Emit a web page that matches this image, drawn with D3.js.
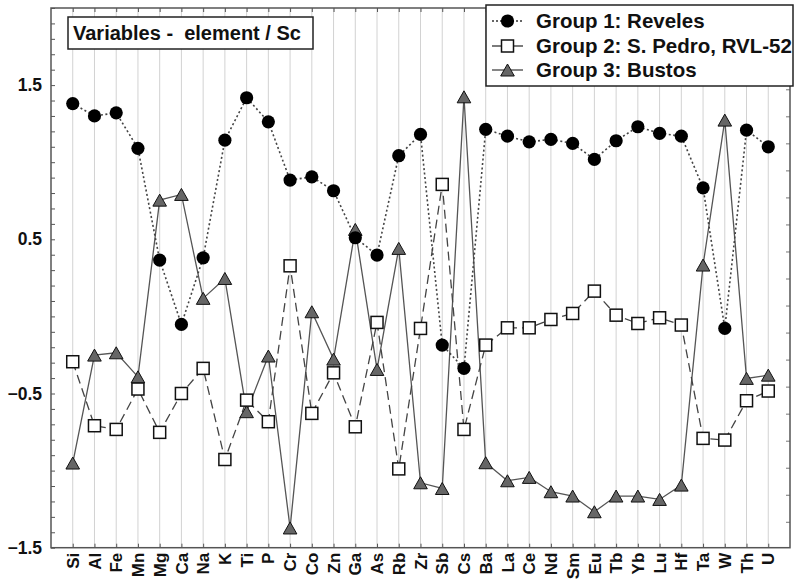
<!DOCTYPE html>
<html>
<head>
<meta charset="utf-8">
<script src="https://cdn.jsdelivr.net/npm/d3@7/dist/d3.min.js"></script>
<style>
  html, body { margin: 0; padding: 0; background: #fff; }
  svg { display: block; }
  text { font-family: "Liberation Sans", Arial, sans-serif; font-weight: bold; fill: #111; }
</style>
</head>
<body>
<svg id="chart" width="795" height="581"></svg>
<script>
const categories = ["Si","Al","Fe","Mn","Mg","Ca","Na","K","Ti","P","Cr","Co","Zn","Ga","As","Rb","Zr","Sb","Cs","Ba","La","Ce","Nd","Sm","Eu","Tb","Yb","Lu","Hf","Ta","W","Th","U"];

const group1 = [1.38, 1.30, 1.32, 1.09, 0.365, -0.052, 0.38, 1.143, 1.418, 1.262, 0.884, 0.905, 0.815, 0.51, 0.398, 1.042, 1.18, -0.186, -0.337, 1.213, 1.169, 1.132, 1.148, 1.122, 1.018, 1.139, 1.23, 1.187, 1.169, 0.834, -0.078, 1.208, 1.10];

const group2 = [-0.294, -0.709, -0.733, -0.471, -0.752, -0.50, -0.337, -0.928, -0.543, -0.683, 0.328, -0.629, -0.366, -0.716, -0.039, -0.989, -0.078, 0.856, -0.733, -0.186, -0.074, -0.074, -0.02, 0.019, 0.164, 0.008, -0.046, -0.009, -0.056, -0.791, -0.802, -0.547, -0.484];

const group3 = [-0.951, -0.251, -0.236, -0.392, 0.754, 0.791, 0.117, 0.246, -0.618, -0.257, -1.372, 0.03, -0.277, 0.564, -0.344, 0.441, -1.079, -1.116, 1.424, -0.949, -1.066, -1.044, -1.137, -1.165, -1.267, -1.165, -1.165, -1.187, -1.094, 0.333, 1.273, -0.402, -0.381];

const seriesNames = ["Group 1: Reveles", "Group 2: S. Pedro, RVL-52", "Group 3: Bustos"];
const yLabelTicks = [-1.5, -0.5, 0.5, 1.5];
const titleText = "Variables -  element / Sc";

const svg = d3.select("#chart");
const L = 51, R = 790, T = 8, B = 547.7;

const x = d3.scalePoint().domain(categories).range([L, R]).padding(1);
const y = d3.scaleLinear().domain([-1.5, 2.0]).range([B, T]);

// vertical grid
svg.append("g").selectAll("line").data(categories).join("line")
  .attr("x1", d => x(d)).attr("x2", d => x(d))
  .attr("y1", T).attr("y2", B)
  .attr("stroke", "#d2d2d2").attr("stroke-width", 1);

// minor ticks left (inward)
const minor = d3.range(-15, 21).map(v => v / 10);
svg.append("g").attr("transform", `translate(${L},0)`)
  .call(d3.axisLeft(y).tickValues(minor).tickSize(-4).tickFormat(""))
  .call(g => g.select(".domain").remove())
  .call(g => g.selectAll(".tick line").attr("stroke", "#555"));

// left labels
svg.append("g").attr("transform", `translate(${L},0)`)
  .call(d3.axisLeft(y).tickValues(yLabelTicks).tickSize(0).tickPadding(9).tickFormat(d3.format(".1f")))
  .call(g => g.select(".domain").remove())
  .call(g => g.selectAll("text").style("font-size", "17.5px").style("font-family", '"Liberation Sans", Arial, sans-serif').style("font-weight", "bold").attr("fill", "#111"));

// right ticks (inward)
const rightTicks = d3.range(-1.332, 1.9, 0.1753);
svg.append("g").attr("transform", `translate(${R},0)`)
  .call(d3.axisRight(y).tickValues(rightTicks).tickSize(-4).tickFormat(""))
  .call(g => g.select(".domain").remove())
  .call(g => g.selectAll(".tick line").attr("stroke", "#777"));

// top ticks
svg.append("g").attr("transform", `translate(0,${T})`)
  .call(d3.axisTop(x).tickSize(-4).tickFormat(""))
  .call(g => g.select(".domain").remove())
  .call(g => g.selectAll(".tick line").attr("stroke", "#555"));

// bottom axis
svg.append("g").attr("transform", `translate(0,${B})`)
  .call(d3.axisBottom(x).tickSize(-4).tickFormat(""))
  .call(g => g.select(".domain").remove())
  .call(g => g.selectAll(".tick line").attr("stroke", "#555"));

svg.append("g").selectAll("text").data(categories).join("text")
  .attr("transform", d => `translate(${x(d)},${B + 5}) rotate(-90)`)
  .attr("text-anchor", "end")
  .attr("dy", "0.36em")
  .style("font-size", "17px")
  .text(d => d);

// frame
svg.append("rect").attr("x", L).attr("y", T).attr("width", R - L).attr("height", B - T)
  .attr("fill", "none").attr("stroke", "#555").attr("stroke-width", 1.5);

// lines
const line = d3.line().x((d, i) => x(categories[i])).y(d => y(d));
svg.append("path").datum(group3).attr("d", line)
  .attr("fill", "none").attr("stroke", "#555").attr("stroke-width", 1.3);
svg.append("path").datum(group2).attr("d", line)
  .attr("fill", "none").attr("stroke", "#444").attr("stroke-width", 1.3).attr("stroke-dasharray", "9,5");
svg.append("path").datum(group1).attr("d", line)
  .attr("fill", "none").attr("stroke", "#444").attr("stroke-width", 1.6).attr("stroke-dasharray", "2,2.5");

// markers
function tri(cx, cy) {
  const w = 6.8, h = 6;
  return `M${cx},${cy - h}L${cx + w},${cy + h}L${cx - w},${cy + h}Z`;
}
svg.append("g").selectAll("path").data(group3).join("path")
  .attr("d", (d, i) => tri(x(categories[i]), y(d)))
  .attr("fill", "#666").attr("stroke", "#111").attr("stroke-width", 1);
svg.append("g").selectAll("rect").data(group2).join("rect")
  .attr("x", (d, i) => x(categories[i]) - 6).attr("y", d => y(d) - 6)
  .attr("width", 12).attr("height", 12)
  .attr("fill", "#fff").attr("stroke", "#111").attr("stroke-width", 1.5);
svg.append("g").selectAll("circle").data(group1).join("circle")
  .attr("cx", (d, i) => x(categories[i])).attr("cy", d => y(d)).attr("r", 6.6)
  .attr("fill", "#000");

// title box
const tg = svg.append("g");
tg.append("rect").attr("x", 68).attr("y", 17).attr("width", 245).attr("height", 32)
  .attr("fill", "#fff").attr("stroke", "#222").attr("stroke-width", 1.5);
tg.append("text").attr("x", 73).attr("y", 40).style("font-size", "20px").attr("xml:space", "preserve")
  .style("white-space", "pre").text(titleText);

// legend
const lg = svg.append("g");
lg.append("rect").attr("x", 486).attr("y", 5).attr("width", 307).attr("height", 81)
  .attr("fill", "#fff").attr("stroke", "#222").attr("stroke-width", 1.5);
const rows = [28, 53, 77];
const lx1 = 492, lx2 = 523, lm = 507.5;
const styles = [
  {stroke: "#333", dash: "2,2", w: 1.6},
  {stroke: "#333", dash: null, w: 1.3},
  {stroke: "#444", dash: null, w: 1.3}
];
seriesNames.forEach((name, i) => {
  const cy = rows[i] - 7;
  lg.append("line").attr("x1", lx1).attr("x2", lx2).attr("y1", cy).attr("y2", cy)
    .attr("stroke", styles[i].stroke).attr("stroke-width", styles[i].w)
    .attr("stroke-dasharray", styles[i].dash);
  if (i === 0) lg.append("circle").attr("cx", lm).attr("cy", cy).attr("r", 6.6).attr("fill", "#000");
  if (i === 1) lg.append("rect").attr("x", lm - 6).attr("y", cy - 6).attr("width", 12).attr("height", 12)
    .attr("fill", "#fff").attr("stroke", "#111").attr("stroke-width", 1.5);
  if (i === 2) lg.append("path").attr("d", tri(lm, cy)).attr("fill", "#666").attr("stroke", "#111");
  lg.append("text").attr("x", 536).attr("y", rows[i]).style("font-size", "20.5px").text(name);
});
</script>
</body>
</html>
